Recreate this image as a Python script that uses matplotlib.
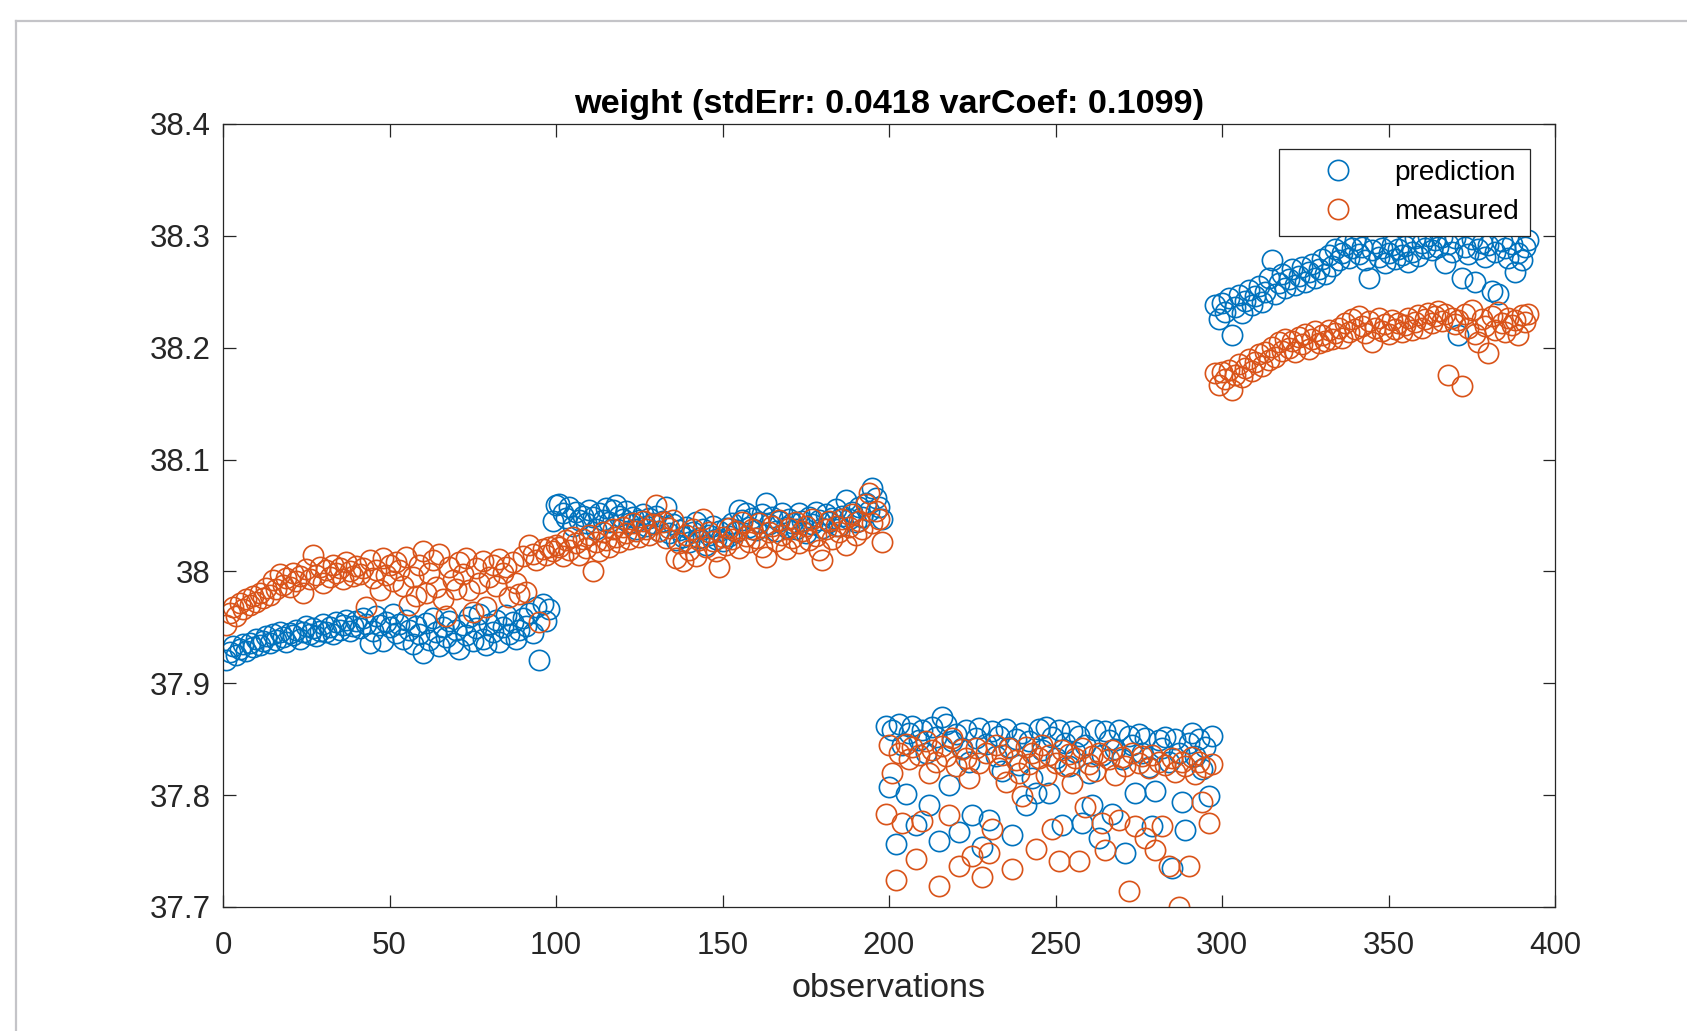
import numpy as np
import matplotlib
matplotlib.use("Agg")
import matplotlib.pyplot as plt
from matplotlib.lines import Line2D

plt.rcParams["font.family"] = ["Liberation Sans", "DejaVu Sans"]

# ---------------------------------------------------------------------------
# Data (four blocks of observations)
# ---------------------------------------------------------------------------
pred_block1 = [
    37.921, 37.928, 37.933, 37.925, 37.931, 37.935, 37.929, 37.936, 37.932, 37.940,
    37.934, 37.938, 37.942, 37.936, 37.944, 37.939, 37.946, 37.941, 37.937, 37.945,
    37.943, 37.948, 37.940, 37.946, 37.951, 37.944, 37.949, 37.942, 37.947, 37.953,
    37.946, 37.950, 37.944, 37.955, 37.948, 37.952, 37.957, 37.947, 37.951, 37.956,
    37.949, 37.958, 37.953, 37.936, 37.947, 37.960, 37.952, 37.938, 37.955, 37.950,
    37.962, 37.945, 37.953, 37.940, 37.957, 37.948, 37.935, 37.951, 37.944, 37.927,
    37.954, 37.939, 37.958, 37.946, 37.933, 37.950, 37.941, 37.956, 37.936, 37.948,
    37.931, 37.952, 37.943, 37.959, 37.938, 37.949, 37.962, 37.940, 37.934, 37.953,
    37.946, 37.957, 37.937, 37.950, 37.961, 37.944, 37.955, 37.940, 37.948, 37.958,
    37.951, 37.963, 37.945, 37.968, 37.921, 37.971, 37.956, 37.966,
]
meas_block1 = [
    37.952, 37.963, 37.968, 37.960, 37.972, 37.966, 37.975, 37.970, 37.978, 37.973,
    37.981, 37.976, 37.985, 37.979, 37.992, 37.984, 37.998, 37.988, 37.994, 37.986,
    37.999, 37.991, 37.996, 37.981, 38.002, 37.993, 38.015, 37.997, 38.004, 37.990,
    38.001, 37.995, 38.006, 37.999, 38.003, 37.993, 38.008, 38.000, 37.996, 38.005,
    37.998, 38.003, 37.968, 38.010, 37.994, 38.001, 37.983, 38.012, 37.997, 38.006,
    37.991, 38.008, 38.001, 37.987, 38.013, 37.970, 37.995, 37.978, 38.006, 38.018,
    37.981, 37.999, 38.010, 37.986, 38.016, 37.975, 37.960, 38.004, 37.992, 37.984,
    38.008, 37.998, 38.012, 37.983, 37.964, 38.003, 37.990, 38.009, 37.968, 37.995,
    38.006, 37.987, 38.011, 37.999, 38.004, 37.977, 38.008, 37.990, 37.980, 38.014,
    37.982, 38.024, 38.016, 38.010, 37.955, 38.020, 38.015, 38.022,
]

pred_block2 = [
    38.045, 38.059, 38.060, 38.052, 38.048, 38.058, 38.041, 38.053, 38.046, 38.050,
    38.043, 38.055, 38.049, 38.038, 38.052, 38.046, 38.057, 38.044, 38.055, 38.059,
    38.050, 38.047, 38.054, 38.043, 38.049, 38.038, 38.046, 38.051, 38.041, 38.048,
    38.043, 38.050, 38.036, 38.045, 38.058, 38.034, 38.042, 38.028, 38.037, 38.031,
    38.040, 38.026, 38.035, 38.044, 38.030, 38.038, 38.024, 38.033, 38.041, 38.029,
    38.036, 38.027, 38.039, 38.032, 38.043, 38.035, 38.055, 38.046, 38.052, 38.040,
    38.048, 38.037, 38.044, 38.051, 38.061, 38.042, 38.049, 38.036, 38.045, 38.052,
    38.040, 38.047, 38.043, 38.038, 38.052, 38.045, 38.034, 38.049, 38.042, 38.053,
    38.046, 38.039, 38.051, 38.044, 38.048, 38.056, 38.041, 38.050, 38.064, 38.047,
    38.053, 38.044, 38.058, 38.049, 38.061, 38.054, 38.075, 38.066, 38.058, 38.047,
]
meas_block2 = [
    38.018, 38.024, 38.022, 38.014, 38.028, 38.019, 38.031, 38.025, 38.015, 38.029,
    38.021, 38.033, 38.000, 38.026, 38.018, 38.035, 38.028, 38.022, 38.038, 38.031,
    38.026, 38.040, 38.034, 38.029, 38.043, 38.036, 38.031, 38.045, 38.038, 38.033,
    38.042, 38.059, 38.036, 38.044, 38.030, 38.039, 38.046, 38.012, 38.025, 38.009,
    38.033, 38.019, 38.038, 38.014, 38.028, 38.047, 38.022, 38.035, 38.027, 38.018,
    38.004, 38.031, 38.024, 38.039, 38.029, 38.036, 38.021, 38.044, 38.032, 38.026,
    38.038, 38.030, 38.043, 38.022, 38.013, 38.035, 38.041, 38.027, 38.046, 38.033,
    38.020, 38.039, 38.030, 38.044, 38.025, 38.036, 38.041, 38.028, 38.047, 38.032,
    38.019, 38.010, 38.038, 38.045, 38.029, 38.041, 38.035, 38.047, 38.024, 38.040,
    38.051, 38.033, 38.045, 38.038, 38.060, 38.070, 38.043, 38.054, 38.047, 38.026,
]

pred_block3 = [
    37.862, 37.807, 37.858, 37.756, 37.864, 37.845, 37.801, 37.856, 37.862, 37.773,
    37.849, 37.858, 37.838, 37.791, 37.861, 37.852, 37.759, 37.870, 37.864, 37.809,
    37.848, 37.855, 37.767, 37.842, 37.858, 37.830, 37.782, 37.851, 37.860, 37.754,
    37.846, 37.778, 37.857, 37.835, 37.853, 37.822, 37.859, 37.843, 37.764, 37.850,
    37.827, 37.856, 37.791, 37.848, 37.815, 37.802, 37.859, 37.840, 37.861, 37.802,
    37.852, 37.833, 37.858, 37.773, 37.847, 37.826, 37.857, 37.839, 37.853, 37.775,
    37.845, 37.820, 37.791, 37.858, 37.762, 37.836, 37.857, 37.849, 37.783, 37.841,
    37.858, 37.832, 37.748, 37.853, 37.845, 37.802, 37.855, 37.838, 37.851, 37.825,
    37.772, 37.804, 37.849, 37.842, 37.852, 37.830, 37.735, 37.850, 37.838, 37.794,
    37.769, 37.847, 37.856, 37.835, 37.850, 37.823, 37.843, 37.799, 37.853,
]
meas_block3 = [
    37.783, 37.845, 37.820, 37.724, 37.838, 37.775, 37.846, 37.832, 37.843, 37.743,
    37.836, 37.777, 37.848, 37.820, 37.840, 37.830, 37.719, 37.844, 37.835, 37.782,
    37.851, 37.826, 37.737, 37.841, 37.833, 37.815, 37.746, 37.842, 37.829, 37.727,
    37.838, 37.748, 37.770, 37.845, 37.824, 37.836, 37.812, 37.842, 37.734, 37.831,
    37.820, 37.799, 37.843, 37.828, 37.838, 37.752, 37.833, 37.845, 37.818, 37.836,
    37.770, 37.829, 37.741, 37.840, 37.826, 37.837, 37.811, 37.833, 37.741, 37.842,
    37.789, 37.828, 37.835, 37.822, 37.838, 37.775, 37.751, 37.832, 37.840, 37.818,
    37.778, 37.834, 37.826, 37.714, 37.838, 37.772, 37.829, 37.835, 37.762, 37.824,
    37.836, 37.751, 37.830, 37.772, 37.827, 37.737, 37.833, 37.821, 37.700, 37.830,
    37.826, 37.737, 37.834, 37.819, 37.830, 37.794, 37.825, 37.775, 37.828,
]

pred_block4 = [
    38.238, 38.226, 38.240, 38.232, 38.244, 38.211, 38.236, 38.247, 38.231, 38.242,
    38.252, 38.238, 38.246, 38.255, 38.241, 38.250, 38.262, 38.278, 38.248, 38.258,
    38.266, 38.253, 38.261, 38.270, 38.256, 38.264, 38.272, 38.259, 38.268, 38.275,
    38.262, 38.270, 38.279, 38.266, 38.283, 38.273, 38.288, 38.278, 38.285, 38.292,
    38.280, 38.289, 38.296, 38.284, 38.290, 38.278, 38.262, 38.287, 38.294, 38.281,
    38.289, 38.276, 38.285, 38.292, 38.279, 38.288, 38.283, 38.291, 38.277, 38.286,
    38.298, 38.282, 38.294, 38.289, 38.300, 38.287, 38.296, 38.290, 38.299, 38.276,
    38.293, 38.286, 38.298, 38.211, 38.262, 38.290, 38.284, 38.297, 38.259, 38.288,
    38.294, 38.281, 38.292, 38.251, 38.286, 38.248, 38.295, 38.289, 38.280, 38.293,
    38.268, 38.285, 38.278, 38.290, 38.296,
]
meas_block4 = [
    38.177, 38.167, 38.178, 38.172, 38.180, 38.162, 38.176, 38.185, 38.174, 38.182,
    38.190, 38.179, 38.187, 38.194, 38.184, 38.196, 38.189, 38.201, 38.192, 38.205,
    38.197, 38.208, 38.200, 38.206, 38.196, 38.210, 38.203, 38.212, 38.199, 38.208,
    38.215, 38.204, 38.211, 38.206, 38.216, 38.208, 38.213, 38.218, 38.209, 38.222,
    38.214, 38.226, 38.217, 38.228, 38.219, 38.213, 38.224, 38.205, 38.218, 38.227,
    38.215, 38.221, 38.212, 38.225, 38.217, 38.222, 38.214, 38.220, 38.227, 38.216,
    38.223, 38.229, 38.218, 38.226, 38.231, 38.222, 38.228, 38.233, 38.224, 38.230,
    38.176, 38.227, 38.221, 38.225, 38.166, 38.230, 38.218, 38.234, 38.212, 38.205,
    38.226, 38.219, 38.195, 38.228, 38.216, 38.232, 38.222, 38.214, 38.227, 38.220,
    38.225, 38.211, 38.229, 38.223, 38.230,
]

prediction = np.concatenate([pred_block1, pred_block2, pred_block3, pred_block4])
measured = np.concatenate([meas_block1, meas_block2, meas_block3, meas_block4])
obs = np.arange(1, len(prediction) + 1)

x_ticks = [0, 50, 100, 150, 200, 250, 300, 350, 400]
y_ticks = [37.7, 37.8, 37.9, 38.0, 38.1, 38.2, 38.3, 38.4]
y_tick_labels = ["37.7", "37.8", "37.9", "38", "38.1", "38.2", "38.3", "38.4"]

BLUE = "#0072BD"
ORANGE = "#D95319"
AXC = "#262626"

# ---------------------------------------------------------------------------
# Figure
# ---------------------------------------------------------------------------
fig = plt.figure(figsize=(16.87, 10.31), dpi=100)
W, H = 1687, 1031
ax = fig.add_axes([223 / W, 1 - 907 / H, (1555 - 223) / W, (907 - 124) / H])

# window frame
fig.add_artist(Line2D([16 / W, 16 / W], [0, 1 - 21 / H], transform=fig.transFigure,
                      color="#c4c4c8", lw=1.6))
fig.add_artist(Line2D([16 / W, 1], [1 - 21 / H, 1 - 21 / H], transform=fig.transFigure,
                      color="#c4c4c8", lw=1.6))

ax.plot(obs, prediction, "o", ms=14.6, mfc="none", mec=BLUE, mew=1.2, label="prediction")
ax.plot(obs, measured, "o", ms=14.6, mfc="none", mec=ORANGE, mew=1.2, label="measured")

ax.set_xlim(0, 400)
ax.set_ylim(37.7, 38.4)
ax.set_xticks(x_ticks)
ax.set_yticks(y_ticks)
ax.set_yticklabels(y_tick_labels)
ax.tick_params(direction="in", length=9, width=0.9, colors=AXC, labelsize=22.5,
               top=True, right=True)
ax.tick_params(axis="x", pad=17)
ax.tick_params(axis="y", pad=9)
for s in ax.spines.values():
    s.set_color(AXC)
    s.set_linewidth(0.9)

ax.set_xlabel("observations", fontsize=24.7, color=AXC, labelpad=9)
ax.set_title("weight (stdErr: 0.0418 varCoef: 0.1099)", fontsize=24.7,
             fontweight="bold", color="black", pad=8)

leg = ax.legend(loc="upper right", fontsize=20.2, frameon=True, fancybox=False,
                edgecolor=AXC, framealpha=1, borderaxespad=0.88, handletextpad=0.3,
                borderpad=0.4, labelspacing=0.45, handlelength=3.4)
leg.get_frame().set_linewidth(0.9)

fig.savefig("out.png", dpi=100)
